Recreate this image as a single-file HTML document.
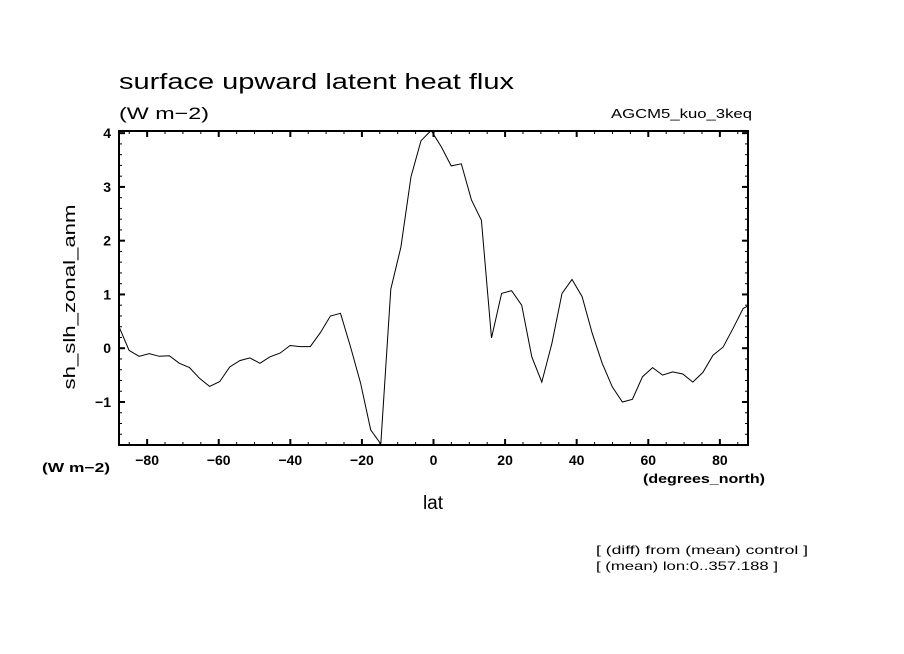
<!DOCTYPE html>
<html><head><meta charset="utf-8">
<style>
html,body{margin:0;padding:0;background:#fff;}
svg{display:block;font-family:"Liberation Sans",sans-serif;}
</style></head>
<body>
<svg id="chart" width="904" height="654" viewBox="0 0 904 654" xmlns="http://www.w3.org/2000/svg">
<defs><clipPath id="plotclip"><rect x="119" y="130" width="629" height="316"/></clipPath></defs>
<rect width="904" height="654" fill="#fff"/>
<text x="119" y="89" font-size="22" textLength="395" lengthAdjust="spacingAndGlyphs">surface upward latent heat flux</text>
<text x="119" y="119" font-size="17" textLength="90" lengthAdjust="spacingAndGlyphs">(W m−2)</text>
<text x="611" y="118" font-size="13" textLength="141" lengthAdjust="spacingAndGlyphs">AGCM5_kuo_3keq</text>
<text x="0" y="0" font-size="17" transform="translate(75,297) rotate(-90)" text-anchor="middle" textLength="185" lengthAdjust="spacingAndGlyphs">sh_slh_zonal_anm</text>
<text x="42" y="472" font-size="13" font-weight="bold" textLength="68" lengthAdjust="spacingAndGlyphs">(W m−2)</text>
<text x="643" y="483" font-size="13" font-weight="bold" textLength="122" lengthAdjust="spacingAndGlyphs">(degrees_north)</text>
<text x="433" y="509" font-size="19" text-anchor="middle">lat</text>
<text x="596" y="554" font-size="12" textLength="212" lengthAdjust="spacingAndGlyphs">[ (diff) from (mean) control ]</text>
<text x="596" y="570" font-size="12" textLength="182" lengthAdjust="spacingAndGlyphs">[ (mean) lon:0..357.188 ]</text>
<g id="axes"></g>
<g id="series" clip-path="url(#plotclip)"></g>
</svg>
<script>
const lats = [];
for (let i = 0; i < 64; i++) lats.push(-87.86 + 2.8125 * i);
const values = [0.40,-0.04,-0.15,-0.10,-0.15,-0.14,-0.28,-0.36,-0.56,-0.71,
-0.62,-0.35,-0.23,-0.18,-0.28,-0.16,-0.09,0.05,0.03,0.03,
0.29,0.60,0.65,0.02,-0.65,-1.52,-1.78,1.10,1.88,3.19,
3.86,4.05,3.75,3.39,3.43,2.76,2.38,0.19,1.02,1.07,
0.80,-0.16,-0.63,0.09,1.02,1.28,0.96,0.28,-0.28,-0.72,
-1.00,-0.95,-0.53,-0.36,-0.50,-0.44,-0.48,-0.63,-0.45,-0.13,
0.02,0.37,0.74,0.84];
const xTicks = [-80,-60,-40,-20,0,20,40,60,80];
const yTicks = [-1,0,1,2,3,4];
const yTickLabels = ["−1","0","1","2","3","4"];

const L=119,R=748,T=131,B=445;
const xMin=-87.86,xMax=87.86,yMin=-1.8,yMax=4.04;
const sx=v=>L+(v-xMin)/(xMax-xMin)*(R-L);
const sy=v=>B-(v-yMin)/(yMax-yMin)*(B-T);
const NS="http://www.w3.org/2000/svg";
const axes=document.getElementById('axes');
function mk(tag,attrs,parent){const e=document.createElementNS(NS,tag);for(const k in attrs)e.setAttribute(k,attrs[k]);parent.appendChild(e);return e;}

const frame=mk('rect',{x:L,y:T,width:R-L,height:B-T,fill:'none',stroke:'#000','stroke-width':2},axes);



for(let v=-85;v<=85;v+=5){
  const x=sx(v);const major=v%20===0;const len=major?6:3;
  const t1=mk('line',{x1:x,y1:B,x2:x,y2:B-len,stroke:'#000','stroke-width':major?2:1},axes);
  
  
  const t2=mk('line',{x1:x,y1:T,x2:x,y2:T+len,stroke:'#000','stroke-width':major?2:1},axes);
  
  
}
xTicks.forEach(v=>{
  const t=mk('text',{x:sx(v),y:B+20,'font-size':14,'font-weight':'bold','text-anchor':'middle'},axes);
  t.textContent=v<0?'−'+Math.abs(v):String(v);
  
  
});
for(let k=-8;k<=20;k++){
  const v=k*0.2; if(v<yMin-1e-9||v>yMax+1e-9) continue;
  const y=sy(v);const major=k%5===0;const len=major?6:3;
  const t1=mk('line',{x1:L,y1:y,x2:L+len,y2:y,stroke:'#000','stroke-width':major?2:1},axes);
  
  
  const t2=mk('line',{x1:R,y1:y,x2:R-len,y2:y,stroke:'#000','stroke-width':major?2:1},axes);
  
  
}
yTicks.forEach((v,i)=>{
  const t=mk('text',{x:L-8,y:sy(v)+5,'font-size':14,'font-weight':'bold','text-anchor':'end'},axes);
  t.textContent=yTickLabels[i];
  
  
});
const pts=lats.map((la,i)=>sx(la).toFixed(1)+','+sy(values[i]).toFixed(1)).join(' ');
const line=mk('polyline',{points:pts,fill:'none',stroke:'#000','stroke-width':1},document.getElementById('series'));


</script>
</body></html>
